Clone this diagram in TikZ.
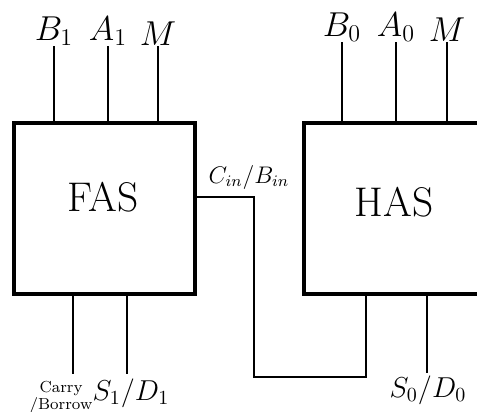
\documentclass[tikz,border=0pt]{standalone}
\tikzset{
  box/.style={draw, line width=2pt, inner sep=0pt, minimum width=90.5pt, minimum height=85.5pt},
  wire/.style={line width=1.3pt},
  inlab/.style={anchor=south, inner sep=0pt, font=\LARGE},
  outlab/.style={inner sep=0pt, font=\Large},
}
\begin{document}
\begin{tikzpicture}[x=0.5pt, y=-0.5pt]
    \clip (0,0) rectangle (477,412);

    % FAS
    \node[box] (fas) at (104.5,208.5) {};
    \node[font=\huge, inner sep=0pt] (fasname) at (103,197) {FAS};
    \node[inlab] (b1) at (54,46) {$B_1$};
    \node[inlab] (a1) at (108,46) {$A_1$};
    \node[inlab] (m1) at (158,46) {$M$};
    \draw[wire] (b1.south) -- (b1.south |- fas.north);
    \draw[wire] (a1.south) -- (a1.south |- fas.north);
    \draw[wire] (m1.south) -- (m1.south |- fas.north);
    \coordinate (cout) at (73,374);
    \coordinate (s1) at (127,374);
    \draw[wire] (cout |- fas.south) -- (cout);
    \draw[wire] (s1 |- fas.south) -- (s1);
    \node[inner sep=0pt, align=center, font={\fontsize{8}{8.5}\selectfont}] (carrylab) at (61,397) {Carry\\/Borrow};
    \node[outlab] (s1lab) at (131,393) {$S_1/D_1$};

    % HAS
    \node[box] (has) at (394.5,208.5) {};
    \node[font=\huge, inner sep=0pt] (hasname) at (394,202) {HAS};
    \node[inlab] (b0) at (342,42) {$B_0$};
    \node[inlab] (a0) at (396,42) {$A_0$};
    \node[inlab] (m0) at (447,42) {$M$};
    \draw[wire] (b0.south) -- (b0.south |- has.north);
    \draw[wire] (a0.south) -- (a0.south |- has.north);
    \draw[wire] (m0.south) -- (m0.south |- has.north);
    \coordinate (s0) at (427,373);
    \draw[wire] (s0 |- has.south) -- (s0);
    \node[outlab] (s0lab) at (428,390) {$S_0/D_0$};

    % riporto
    \node[font=\large, inner sep=0pt] (cinlab) at (249,177) {$C_{in}/B_{in}$};
    \draw[wire] (fas.east |- 0,197) -| (254,377) -| (has.south -| 366,0);
\end{tikzpicture}
\end{document}
